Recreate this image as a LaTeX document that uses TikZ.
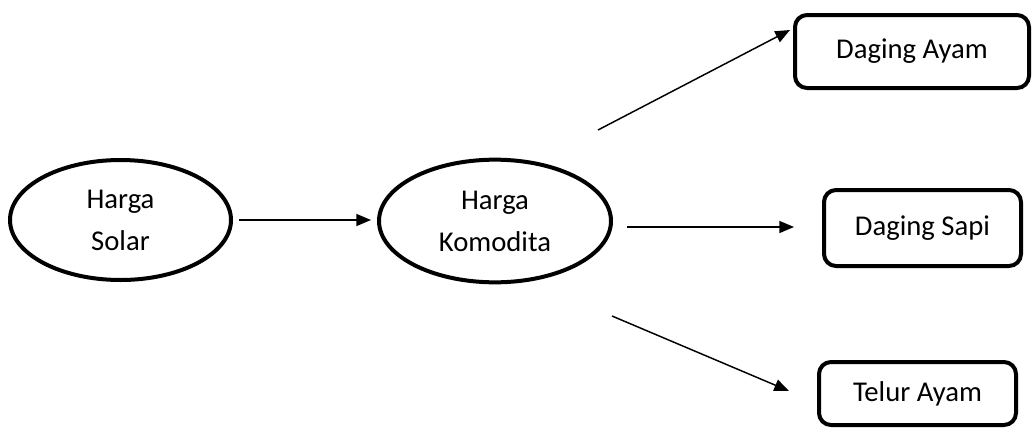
\documentclass[tikz,border=0pt]{standalone}
\usepackage{fontspec}
\setmainfont{Carlito}
\usetikzlibrary{arrows.meta,shapes.geometric}
\begin{document}
\begin{tikzpicture}[x=0.75pt,y=-0.75pt,
  oval/.style={ellipse,draw,line width=3pt,inner sep=0pt,align=center,font=\fontsize{21.5}{31.5}\selectfont},
  rbox/.style={rectangle,draw,line width=3pt,rounded corners=9pt,inner sep=0pt,align=center,font=\fontsize{21.5}{26}\selectfont},
  arr/.style={line width=1.1pt,-{Triangle[length=11pt,width=9pt]}}]
\useasboundingbox (0,0) rectangle (1036,429);
\node[oval,minimum width=165.75pt,minimum height=90pt] (e1) at (120.5,220) {Harga\\Solar};
\node[oval,minimum width=174pt,minimum height=92pt] (e2) at (495,221) {Harga\\Komodita};
\node[rbox,minimum width=175.5pt,minimum height=54.75pt] (b1) at (912,51.5) {Daging Ayam};
\node[rbox,minimum width=147.75pt,minimum height=57pt] (b2) at (922.5,228) {Daging Sapi};
\node[rbox,minimum width=147.75pt,minimum height=47.25pt] (b3) at (917.5,393.5) {Telur Ayam};
\coordinate (s1) at (239,220);
\coordinate (t1) at (371,220);
\coordinate (s2) at (598,130);
\coordinate (t2) at (790,30);
\coordinate (s3) at (627,227);
\coordinate (t3) at (794,227);
\coordinate (s4) at (612,316);
\coordinate (t4) at (789,391);
\draw[arr] (s1) -- (t1);
\draw[arr] (s2) -- (t2);
\draw[arr] (s3) -- (t3);
\draw[arr] (s4) -- (t4);
\end{tikzpicture}
\end{document}
